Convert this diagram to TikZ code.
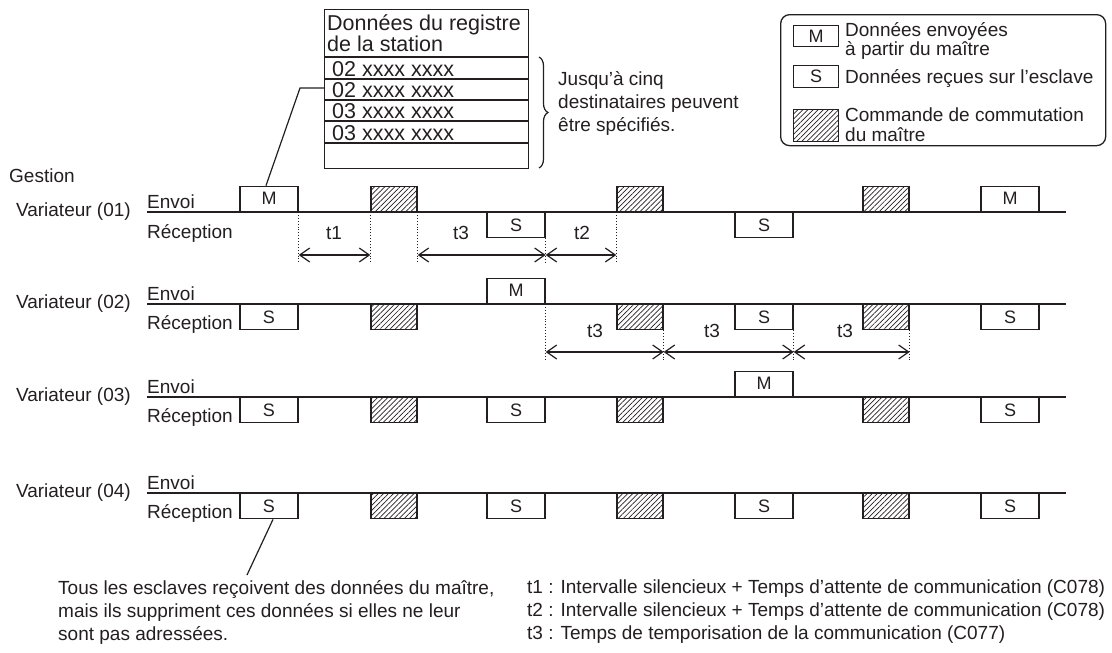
\documentclass[tikz,border=0pt]{standalone}
\usepackage{fontspec}
\setmainfont{Liberation Sans}
\usetikzlibrary{arrows.meta,patterns.meta,decorations.pathreplacing}
\definecolor{ink}{HTML}{231F20}
\begin{document}
\begin{tikzpicture}[x=1pt,y=-1pt,
  txt/.style={font=\fontsize{19}{23}\selectfont, text=ink, inner sep=0pt},
  tbltxt/.style={font=\fontsize{21.5}{19.5}\selectfont, text=ink, inner sep=0pt},
  sline/.style={draw=ink, line width=1.3pt},
  tline/.style={draw=ink, line width=1.3pt},
  dbox/.style={draw=ink, line width=1.4pt, minimum width=58pt, minimum height=25pt, inner sep=0pt, fill=white, font=\fontsize{18}{18}\selectfont, text=ink},
  hbox/.style={draw=ink, line width=1.4pt, minimum width=46pt, minimum height=25pt, inner sep=0pt, pattern={Lines[angle=45,distance=3.6pt,line width=0.7pt]}, pattern color=ink},
  guide/.style={draw=ink, line width=0.9pt, dotted},
  dim/.style={draw=ink, line width=1.2pt, {Straight Barb[length=10pt,width=14pt]}-{Straight Barb[length=10pt,width=14pt]}},
  callout/.style={draw=ink, line width=1.2pt},
]
\useasboundingbox (0,0) rectangle (1112,653);

% ---------- station register table ----------
\node[draw=ink, line width=1.3pt, minimum width=204pt, minimum height=159pt, inner sep=0pt, anchor=north west] (tab) at (324,9) {};
\draw[tline] (324,57) -- (528,57);
\draw[tline] (324,79) -- (528,79);
\draw[tline] (324,100) -- (528,100);
\draw[tline] (324,121) -- (528,121);
\draw[tline] (324,143) -- (528,143);
\node[tbltxt, align=left, anchor=north west] (th) at (327,14) {Données du registre\\de la station};
\node[tbltxt, anchor=base west] (tr1) at (332,76) {02 xxxx xxxx};
\node[tbltxt, anchor=base west] (tr2) at (332,97) {02 xxxx xxxx};
\node[tbltxt, anchor=base west] (tr3) at (332,118) {03 xxxx xxxx};
\node[tbltxt, anchor=base west] (tr4) at (332,140) {03 xxxx xxxx};
\draw[ink, line width=1.2pt, decorate, decoration={brace, amplitude=9pt}] (539,57) -- (539,168);
\node[txt, align=left, anchor=north west] (jus) at (558,71) {Jusqu’à cinq\\destinataires peuvent\\être spécifiés.};

% ---------- legend ----------
\node[draw=ink, line width=1.3pt, rounded corners=9pt, minimum width=325pt, minimum height=131pt, inner sep=0pt, anchor=north west] (leg) at (780,14) {};
\node[dbox, minimum width=45pt, minimum height=21pt, anchor=north west] (lm) at (793,25) {M};
\node[dbox, minimum width=45pt, minimum height=22pt, anchor=north west] (ls) at (793,65) {S};
\node[hbox, minimum width=45pt, minimum height=32pt, anchor=north west] (lh) at (793,109) {};
\node[txt, align=left, anchor=north west, font=\fontsize{19}{19}\selectfont] (lt1) at (845,22) {Données envoyées\\à partir du maître};
\node[txt, anchor=base west] (lt3) at (845,83) {Données reçues sur l’esclave};
\node[txt, align=left, anchor=north west, font=\fontsize{19}{20}\selectfont] (lt4) at (845,108) {Commande de commutation\\du maître};

\node[txt, anchor=base west] (gest) at (9,182) {Gestion};

% ---------- row 1 ----------
\node[txt, anchor=east] (v1) at (131,212) {Variateur (01)};
\node[txt, anchor=base west] (e1) at (147,208) {Envoi};
\node[txt, anchor=base west] (rc1) at (147,238) {Réception};
\coordinate (L1a) at (147,212); \coordinate (L1b) at (1066,212);
\draw[sline] (L1a) -- (L1b);
\node[dbox, anchor=south] (b1A) at (269,212) {M};
\node[hbox, anchor=south] (b1B) at (394,212) {};
\node[dbox, anchor=north] (b1C) at (516,212) {S};
\node[hbox, anchor=south] (b1D) at (640,212) {};
\node[dbox, anchor=north] (b1E) at (764,212) {S};
\node[hbox, anchor=south] (b1F) at (886,212) {};
\node[dbox, anchor=south] (b1G) at (1010,212) {M};
\coordinate (r1dim) at (0,255); \coordinate (r1end) at (0,262);
\draw[guide] (b1A.south east) -- (b1A.south east |- r1end);
\draw[guide] (b1B.south west) -- (b1B.south west |- r1end);
\draw[guide] (b1B.south east) -- (b1B.south east |- r1end);
\draw[guide] (b1C.south east) -- (b1C.south east |- r1end);
\draw[guide] (b1D.south west) -- (b1D.south west |- r1end);
\draw[dim] (b1A.south east |- r1dim) -- (b1B.south west |- r1dim);
\draw[dim] (b1B.south east |- r1dim) -- (b1C.south east |- r1dim);
\draw[dim] (b1C.south east |- r1dim) -- (b1D.south west |- r1dim);
\node[txt] (t1a) at (334,233) {t1};
\node[txt] (t3a) at (461,233) {t3};
\node[txt] (t2a) at (582,233) {t2};

% callout from table
\coordinate (ck) at (300,88);
\draw[callout] (tab.west |- ck) -- (ck) -- ([xshift=-3pt]b1A.north);

% ---------- row 2 ----------
\node[txt, anchor=east] (v2) at (131,304) {Variateur (02)};
\node[txt, anchor=base west] (e2) at (147,300) {Envoi};
\node[txt, anchor=base west] (rc2) at (147,329) {Réception};
\coordinate (L2a) at (147,304); \coordinate (L2b) at (1066,304);
\draw[sline] (L2a) -- (L2b);
\node[dbox, anchor=north] (b2A) at (269,304) {S};
\node[hbox, anchor=north] (b2B) at (394,304) {};
\node[dbox, anchor=south] (b2C) at (516,304) {M};
\node[hbox, anchor=north] (b2D) at (640,304) {};
\node[dbox, anchor=north] (b2E) at (764,304) {S};
\node[hbox, anchor=north] (b2F) at (886,304) {};
\node[dbox, anchor=north] (b2G) at (1010,304) {S};
\coordinate (r2dim) at (0,352); \coordinate (r2end) at (0,360);
\draw[guide] (b2C.south east) -- (b2C.south east |- r2end);
\draw[guide] (b2D.south east) -- (b2D.south east |- r2end);
\draw[guide] (b2E.south east) -- (b2E.south east |- r2end);
\draw[guide] (b2F.south east) -- (b2F.south east |- r2end);
\draw[dim] (b2C.south east |- r2dim) -- (b2D.south east |- r2dim);
\draw[dim] (b2D.south east |- r2dim) -- (b2E.south east |- r2dim);
\draw[dim] (b2E.south east |- r2dim) -- (b2F.south east |- r2dim);
\node[txt] (t3b) at (595,331) {t3};
\node[txt] (t3c) at (712,331) {t3};
\node[txt] (t3d) at (845,331) {t3};

% ---------- row 3 ----------
\node[txt, anchor=east] (v3) at (131,397) {Variateur (03)};
\node[txt, anchor=base west] (e3) at (147,393) {Envoi};
\node[txt, anchor=base west] (rc3) at (147,422) {Réception};
\coordinate (L3a) at (147,397); \coordinate (L3b) at (1066,397);
\draw[sline] (L3a) -- (L3b);
\node[dbox, anchor=north] (b3A) at (269,397) {S};
\node[hbox, anchor=north] (b3B) at (394,397) {};
\node[dbox, anchor=north] (b3C) at (516,397) {S};
\node[hbox, anchor=north] (b3D) at (640,397) {};
\node[dbox, anchor=south] (b3E) at (764,397) {M};
\node[hbox, anchor=north] (b3F) at (886,397) {};
\node[dbox, anchor=north] (b3G) at (1010,397) {S};

% ---------- row 4 ----------
\node[txt, anchor=east] (v4) at (131,493) {Variateur (04)};
\node[txt, anchor=base west] (e4) at (147,489) {Envoi};
\node[txt, anchor=base west] (rc4) at (147,518) {Réception};
\coordinate (L4a) at (147,493); \coordinate (L4b) at (1066,493);
\draw[sline] (L4a) -- (L4b);
\node[dbox, anchor=north] (b4A) at (269,493) {S};
\node[hbox, anchor=north] (b4B) at (394,493) {};
\node[dbox, anchor=north] (b4C) at (516,493) {S};
\node[hbox, anchor=north] (b4D) at (640,493) {};
\node[dbox, anchor=north] (b4E) at (764,493) {S};
\node[hbox, anchor=north] (b4F) at (886,493) {};
\node[dbox, anchor=north] (b4G) at (1010,493) {S};

% callout to note
\coordinate (cb) at (247,575);
\draw[callout] ([xshift=4pt]b4A.south) -- (cb);

% ---------- notes ----------
\node[txt, align=left, anchor=north west] (note) at (58,580) {Tous les esclaves reçoivent des données du maître,\\mais ils suppriment ces données si elles ne leur\\sont pas adressées.};
\node[txt, align=left, anchor=north west] (key) at (527,580) {t1 : Intervalle silencieux + Temps d’attente de communication (C078)\\t2 : Intervalle silencieux + Temps d’attente de communication (C078)\\t3 : Temps de temporisation de la communication (C077)};
\end{tikzpicture}
\end{document}
